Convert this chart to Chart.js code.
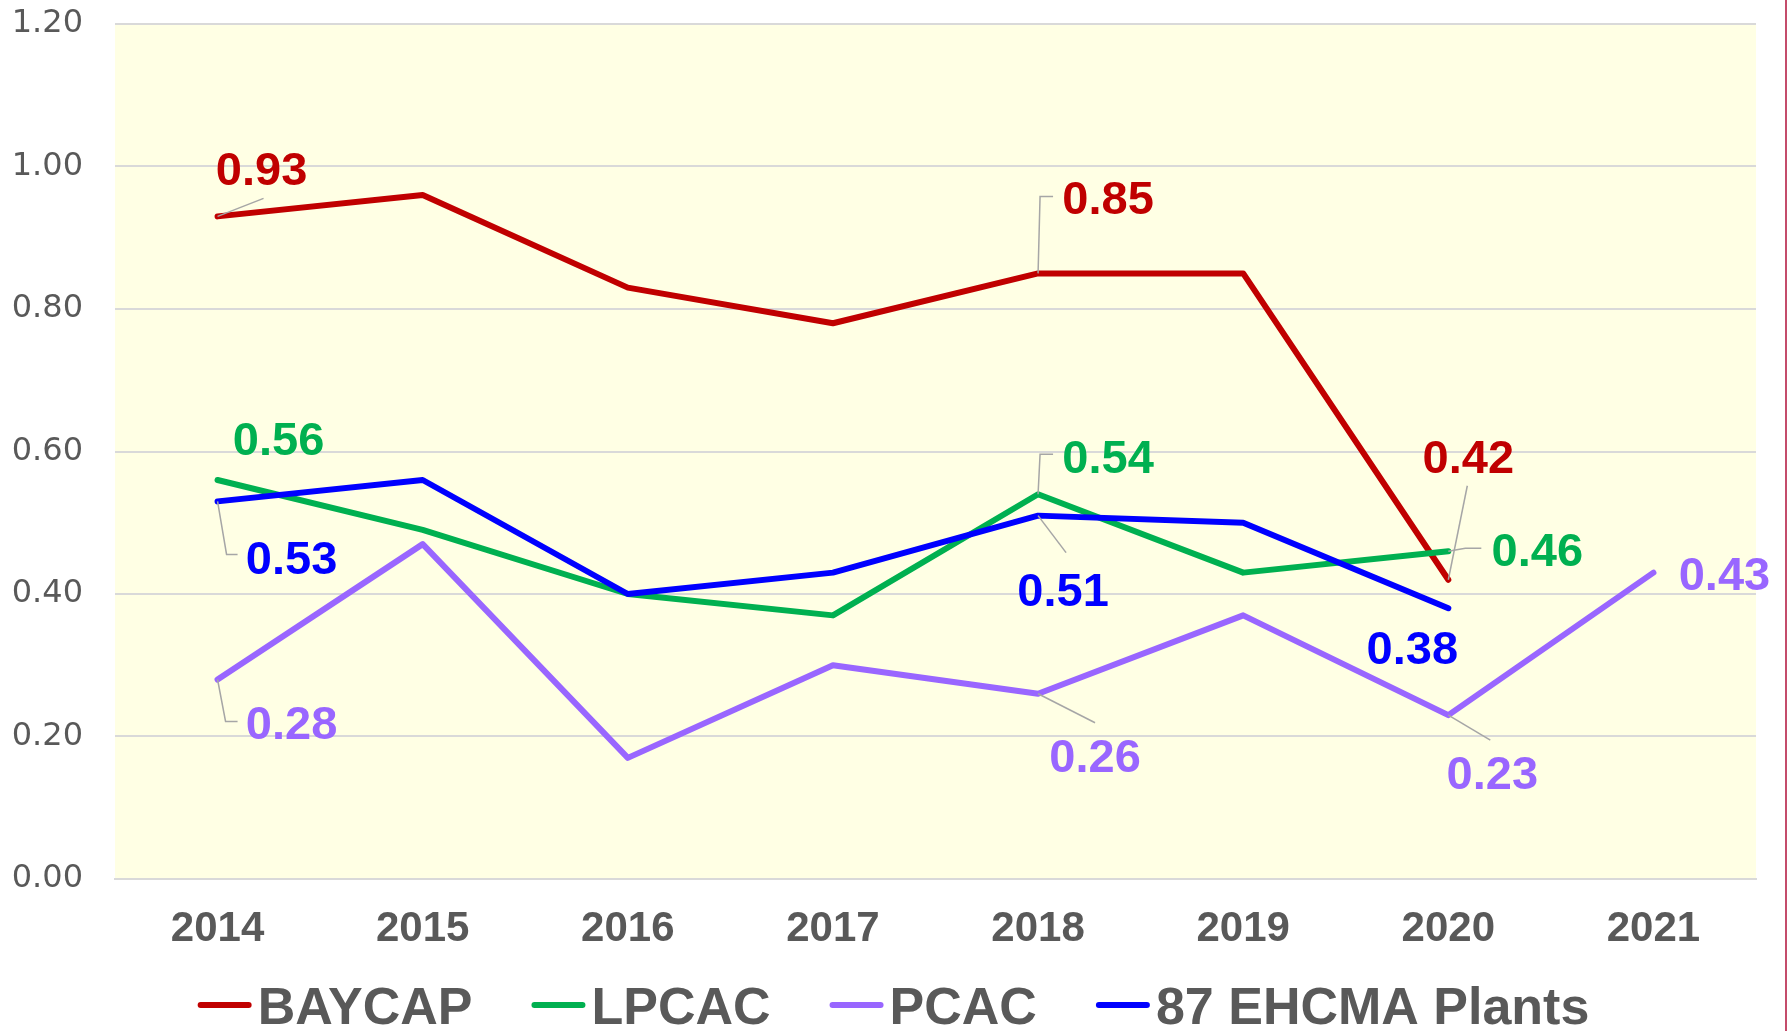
<!DOCTYPE html>
<html>
<head>
<meta charset="utf-8">
<script src="https://cdn.jsdelivr.net/npm/chart.js@4.4.1/dist/chart.umd.min.js"></script>
<style>
  html, body { margin: 0; padding: 0; background: #fff; }
  #wrap { width: 1787px; height: 1031px; position: relative; }
</style>
</head>
<body>
<div id="wrap"><canvas id="chart" width="1787" height="1031"></canvas></div>
<script>
const years = ["2014", "2015", "2016", "2017", "2018", "2019", "2020", "2021"];
const seriesNames = ["BAYCAP", "LPCAC", "PCAC", "87 EHCMA Plants"];
const baycap = [0.93, 0.96, 0.83, 0.78, 0.85, 0.85, 0.42, null];
const lpcac = [0.56, 0.49, 0.40, 0.37, 0.54, 0.43, 0.46, null];
const pcac = [0.28, 0.47, 0.17, 0.30, 0.26, 0.37, 0.23, 0.43];
const ehcma = [0.53, 0.56, 0.40, 0.43, 0.51, 0.50, 0.38, null];
const yTicks = [0, 0.2, 0.4, 0.6, 0.8, 1.0, 1.2];

const colors = ["#C00000", "#00B050", "#9966FF", "#0000FF"];
const gray = "#595959";

// which points carry a value label: [series, index, dx, dy, leader points]
const labelSpecs = [
  [0, 0, 44, -48, [[46, -18]]],
  [0, 4, 70, -76, [[2, -77], [15, -77]]],
  [0, 6, 20, -124, [[19, -94]]],
  [1, 0, 61, -42, null],
  [1, 4, 70, -38, [[2, -40], [15, -40]]],
  [1, 6, 89, -2, [[17, -3], [33, -3]]],
  [2, 0, 74, 43, [[8, 42], [20, 42]]],
  [2, 4, 57, 61, [[57, 29]]],
  [2, 6, 44, 57, [[42, 25]]],
  [2, 7, 71, 1, null],
  [3, 0, 74, 56, [[9, 53], [20, 53]]],
  [3, 4, 25, 74, [[28, 37]]],
  [3, 6, -36, 39, null]
];

const extras = {
  id: "extras",
  beforeDraw(chart) {
    const { ctx, chartArea: a } = chart;
    ctx.save();
    ctx.fillStyle = "rgb(255,255,228)";
    ctx.fillRect(a.left, a.top, a.right - a.left, a.bottom - a.top);
    ctx.restore();
  },
  afterDatasetsDraw(chart) {
    const ctx = chart.ctx;
    ctx.save();
    // leader lines
    ctx.strokeStyle = "#A6A6A6";
    ctx.lineWidth = 1.5;
    labelSpecs.forEach(([s, i, dx, dy, leader]) => {
      if (!leader) return;
      const p = chart.getDatasetMeta(s).data[i];
      ctx.beginPath();
      ctx.moveTo(p.x, p.y);
      leader.forEach(([lx, ly]) => ctx.lineTo(p.x + lx, p.y + ly));
      ctx.stroke();
    });
    // value labels
    const fs = 47;
    ctx.font = `bold ${fs}px "Liberation Sans", Arial, sans-serif`;
    ctx.textAlign = "center";
    ctx.textBaseline = "alphabetic";
    labelSpecs.forEach(([s, i, dx, dy]) => {
      const p = chart.getDatasetMeta(s).data[i];
      const v = chart.data.datasets[s].data[i];
      ctx.fillStyle = colors[s];
      ctx.fillText(v.toFixed(2), p.x + dx, p.y + dy + fs * 0.358);
    });
    ctx.restore();
  },
  afterDraw(chart) {
    const ctx = chart.ctx;
    ctx.save();
    // legend
    const lfs = 52;
    ctx.font = `bold ${lfs}px "Liberation Sans", Arial, sans-serif`;
    const lineW = 54, gap = 6, itemGap = 59;
    const widths = seriesNames.map((n) => lineW + gap + ctx.measureText(n).width);
    const total = widths.reduce((a, b) => a + b, 0) + itemGap * (widths.length - 1);
    let x = chart.width / 2 - total / 2;
    const cy = 1005;
    seriesNames.forEach((n, k) => {
      ctx.strokeStyle = colors[k];
      ctx.lineWidth = 6;
      ctx.lineCap = "round";
      ctx.beginPath();
      ctx.moveTo(x + 3, cy);
      ctx.lineTo(x + lineW - 3, cy);
      ctx.stroke();
      ctx.fillStyle = gray;
      ctx.textAlign = "left";
      ctx.textBaseline = "alphabetic";
      ctx.fillText(n, x + lineW + gap, cy + lfs * 0.358);
      x += widths[k] + itemGap;
    });
    // frame edge on the right
    ctx.strokeStyle = "#B0103A";
    ctx.lineWidth = 1.5;
    ctx.beginPath();
    ctx.moveTo(1786, 0);
    ctx.lineTo(1786, chart.height);
    ctx.stroke();
    ctx.restore();
  }
};

const seriesData = [baycap, lpcac, pcac, ehcma];

new Chart(document.getElementById("chart"), {
  type: "line",
  data: {
    labels: years,
    datasets: seriesData.map((d, k) => ({
      label: seriesNames[k],
      data: d,
      borderColor: colors[k],
      backgroundColor: colors[k],
      borderWidth: 6,
      pointRadius: 0,
      tension: 0,
      borderCapStyle: "round",
      borderJoinStyle: "round",
      order: 4 - k
    }))
  },
  options: {
    responsive: false,
    devicePixelRatio: 1,
    animation: false,
    layout: { padding: { left: 0, right: 31, top: 24, bottom: 72 } },
    plugins: { legend: { display: false }, tooltip: { enabled: false } },
    scales: {
      x: {
        offset: true,
        grid: { display: false, drawTicks: false },
        border: { display: true, color: "#D9D9D9", width: 2 },
        ticks: {
          color: gray,
          padding: 25,
          font: { family: '"Liberation Sans", Arial, sans-serif', size: 42, weight: "bold" }
        },
        afterFit: (s) => { s.height = 80; }
      },
      y: {
        min: 0,
        max: 1.2,
        afterBuildTicks: (s) => { s.ticks = yTicks.map((v) => ({ value: v })); },
        grid: { color: "#D9D9D9", lineWidth: 2, drawTicks: false },
        border: { display: false },
        ticks: {
          color: gray,
          padding: 32,
          font: { family: '"DejaVu Sans", Verdana, sans-serif', size: 32 },
          callback: (v) => Number(v).toFixed(2)
        },
        afterFit: (s) => {
          s.width = 115;
          s.paddingTop = 0;
          s.paddingBottom = 0;
        }
      }
    }
  },
  plugins: [extras]
});
</script>
</body>
</html>
